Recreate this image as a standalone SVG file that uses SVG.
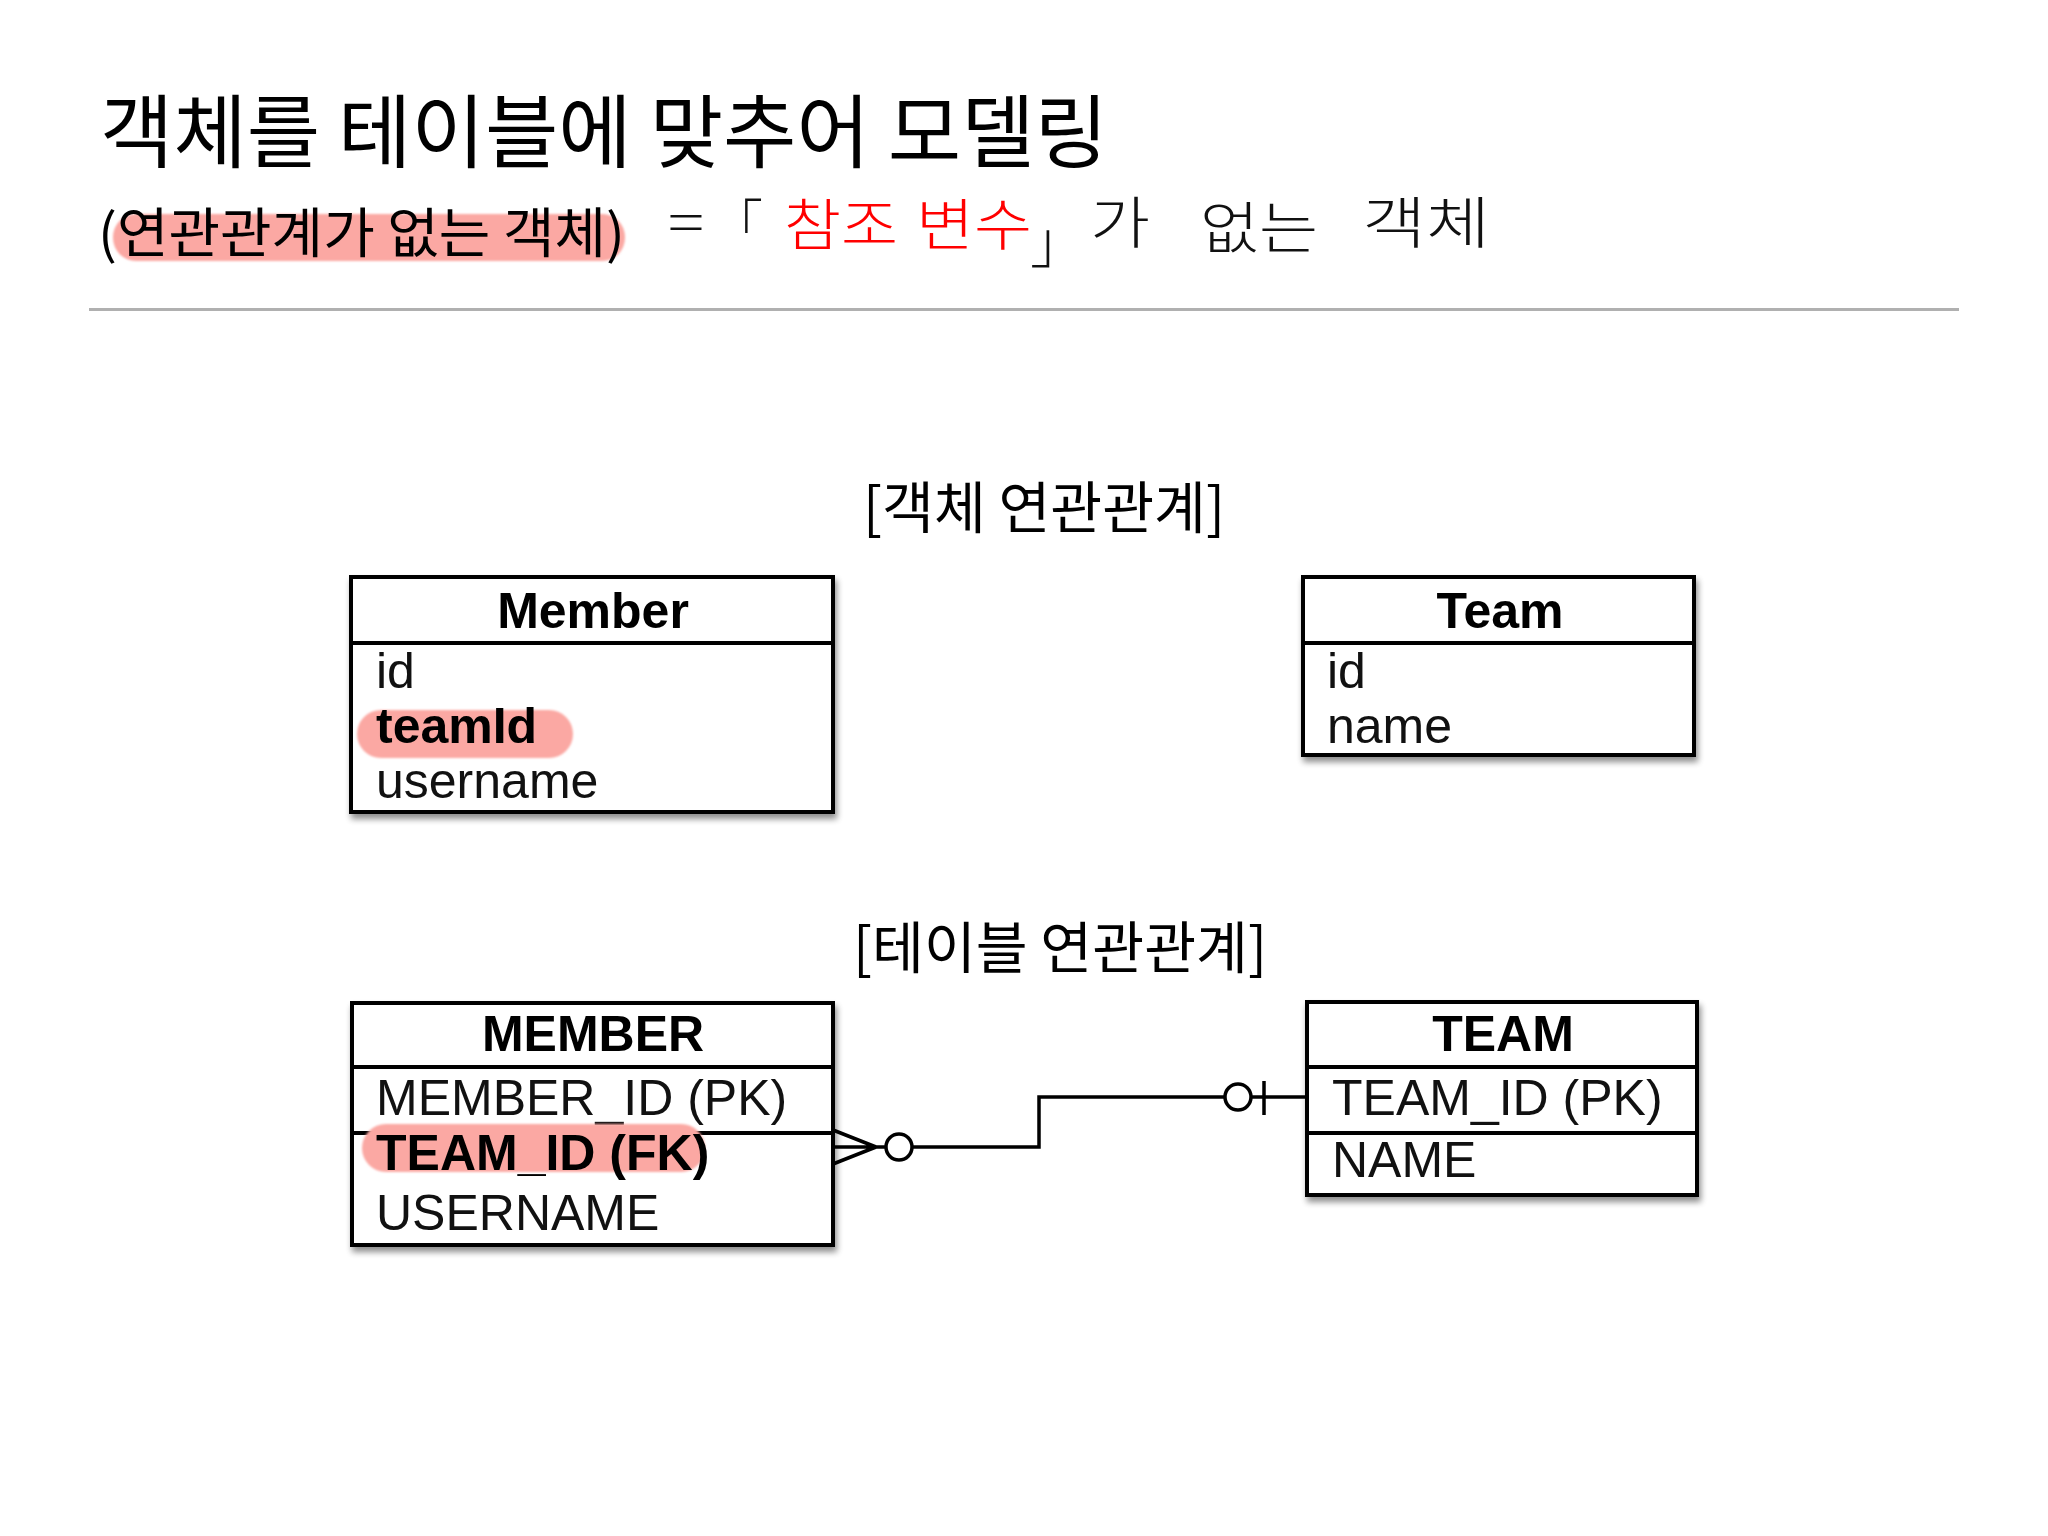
<svg xmlns="http://www.w3.org/2000/svg" width="2048" height="1536" viewBox="0 0 2048 1536">
  <defs>
    <filter id="shadow" x="-10%" y="-10%" width="125%" height="130%">
      <feGaussianBlur in="SourceAlpha" stdDeviation="3"/>
      <feOffset dx="2" dy="5" result="b"/>
      <feComponentTransfer><feFuncA type="linear" slope="0.45"/></feComponentTransfer>
      <feMerge><feMergeNode/><feMergeNode in="SourceGraphic"/></feMerge>
    </filter>
    <filter id="soft" x="-5%" y="-20%" width="110%" height="140%">
      <feGaussianBlur stdDeviation="1.2"/>
    </filter>
  </defs>
  <style>
    .ko { font-family: "Noto Sans CJK KR", "Noto Sans", sans-serif; fill: #000; }
    .hand { font-family: "Noto Sans CJK KR", sans-serif; font-weight: 300; }
    .box { fill: #fff; stroke: #000; stroke-width: 4; }
    .div { stroke: #000; stroke-width: 4; }
    .hd { font-family: "Liberation Sans", Arial, sans-serif; font-weight: bold; font-size: 50px; text-anchor: middle; fill: #000; }
    .row { font-family: "Liberation Sans", Arial, sans-serif; font-size: 50px; fill: #111; }
    .rowb { font-family: "Liberation Sans", Arial, sans-serif; font-size: 50px; font-weight: bold; fill: #000; }
    .hl { fill: #fba8a3; }
    .conn { fill: none; stroke: #000; stroke-width: 3.5; }
  </style>
  <rect width="2048" height="1536" fill="#fff"/>

  <!-- Title -->
  <text class="ko" x="100" y="161" font-size="80" textLength="1008" lengthAdjust="spacingAndGlyphs">객체를 테이블에 맞추어 모델링</text>

  <!-- Subtitle with highlight -->
  <rect class="hl" x="113" y="214" width="512" height="47" rx="23" filter="url(#soft)"/>
  <text class="ko" x="98" y="253" font-size="54" textLength="527" lengthAdjust="spacingAndGlyphs">(연관관계가 없는 객체)</text>

  <!-- Handwritten note -->
  <g class="hand" font-size="56">
    <text x="668" y="243" fill="#111" textLength="36" lengthAdjust="spacingAndGlyphs">=</text>
    <text x="737" y="243" fill="#111" font-size="52">｢</text>
    <text x="784" y="245" fill="#f00" textLength="114" lengthAdjust="spacingAndGlyphs">참조</text>
    <text x="916" y="245" fill="#f00" textLength="116" lengthAdjust="spacingAndGlyphs">변수</text>
    <text x="1030" y="262" fill="#111">｣</text>
    <text x="1090" y="243" fill="#111" textLength="60" lengthAdjust="spacingAndGlyphs">가</text>
    <text x="1200" y="248" fill="#111" textLength="118" lengthAdjust="spacingAndGlyphs">없는</text>
    <text x="1362" y="243" fill="#111" textLength="128" lengthAdjust="spacingAndGlyphs">객체</text>
  </g>

  <!-- Divider rule -->
  <line x1="89" y1="309.5" x2="1959" y2="309.5" stroke="#b0b0b0" stroke-width="3"/>

  <!-- Section labels -->
  <text class="ko" x="863" y="528" font-size="56" textLength="362" lengthAdjust="spacingAndGlyphs">[객체 연관관계]</text>
  <text class="ko" x="853" y="968" font-size="56" textLength="414" lengthAdjust="spacingAndGlyphs">[테이블 연관관계]</text>

  <!-- Object: Member -->
  <g id="member-obj">
    <rect class="box" x="351" y="577" width="482" height="235" filter="url(#shadow)"/>
    <line class="div" x1="351" y1="643" x2="833" y2="643"/>
    <text class="hd" x="593" y="628">Member</text>
    <text class="row" x="376" y="688">id</text>
    <rect class="hl" x="357" y="710" width="216" height="48" rx="24" filter="url(#soft)"/>
    <text class="rowb" x="376" y="743">teamId</text>
    <text class="row" x="376" y="798">username</text>
  </g>

  <!-- Object: Team -->
  <g id="team-obj">
    <rect class="box" x="1303" y="577" width="391" height="178" filter="url(#shadow)"/>
    <line class="div" x1="1303" y1="643" x2="1694" y2="643"/>
    <text class="hd" x="1500" y="628">Team</text>
    <text class="row" x="1327" y="688">id</text>
    <text class="row" x="1327" y="743">name</text>
  </g>

  <!-- Table: MEMBER -->
  <g id="member-table">
    <rect class="box" x="352" y="1003" width="481" height="242" filter="url(#shadow)"/>
    <line class="div" x1="352" y1="1067" x2="833" y2="1067"/>
    <line class="div" x1="352" y1="1133" x2="833" y2="1133"/>
    <text class="hd" x="593" y="1051">MEMBER</text>
    <text class="row" x="376" y="1115">MEMBER_ID (PK)</text>
    <rect class="hl" x="362" y="1124" width="343" height="48" rx="24" filter="url(#soft)"/>
    <text class="rowb" x="376" y="1170">TEAM_ID (FK)</text>
    <text class="row" x="376" y="1230">USERNAME</text>
  </g>

  <!-- Table: TEAM -->
  <g id="team-table">
    <rect class="box" x="1307" y="1002" width="390" height="193" filter="url(#shadow)"/>
    <line class="div" x1="1307" y1="1067" x2="1697" y2="1067"/>
    <line class="div" x1="1307" y1="1133" x2="1697" y2="1133"/>
    <text class="hd" x="1503" y="1051">TEAM</text>
    <text class="row" x="1332" y="1115">TEAM_ID (PK)</text>
    <text class="row" x="1332" y="1177">NAME</text>
  </g>

  <!-- Connectors -->
  <g id="connectors">
    <path class="conn" d="M833,1130 L876,1147 M833,1147 H886 M833,1164 L876,1147"/>
    <circle class="conn" cx="899" cy="1147" r="13" fill="#fff"/>
    <path class="conn" d="M912,1147 H1039 V1097 H1225"/>
    <circle class="conn" cx="1238" cy="1097" r="13" fill="#fff"/>
    <path class="conn" d="M1251,1097 H1307 M1264,1081 V1115"/>
  </g>
</svg>
